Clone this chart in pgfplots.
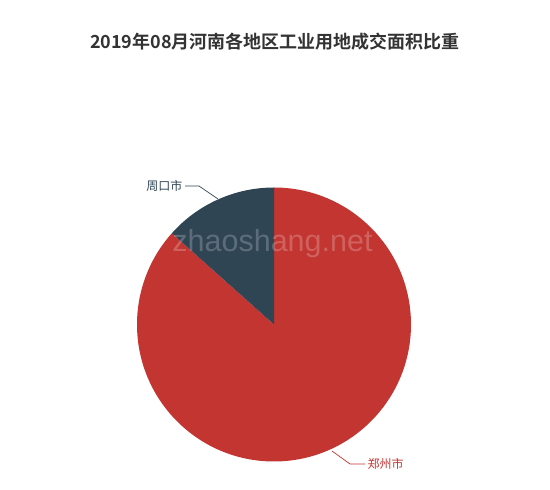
\documentclass[border=0pt]{standalone}
\usepackage{pgfplots}
\usepackage{pgfplotstable}
\pgfplotsset{compat=1.18}
\usepackage{fontspec}
\setmainfont{Liberation Sans}
\newfontfamily\cjk{Noto Sans CJK SC}
\newfontfamily\cjkbold{Noto Sans CJK SC Bold}
\definecolor{zzred}{HTML}{C23531}
\definecolor{zkdark}{HTML}{2F4554}
\definecolor{titlegray}{HTML}{333333}

% share of each city, in percent
\pgfplotstableread{
idx value
0 86.6
1 13.4
}\piedata

\begin{document}
\begin{tikzpicture}
\pgfplotstablegetelem{0}{value}\of\piedata
\pgfmathsetmacro\angA{90-3.6*\pgfplotsretval}
\pgfplotstablegetelem{1}{value}\of\piedata
\pgfmathsetmacro\angB{\angA-3.6*\pgfplotsretval}
\begin{axis}[
  scale only axis,
  width=550pt, height=490pt,
  xmin=0, xmax=550, ymin=0, ymax=490,
  axis lines=none,
  clip=false,
]
  % page frame
  \path (rel axis cs:0,0) rectangle (rel axis cs:1,1);

  % slices, clockwise from twelve o'clock
  \fill[zzred] (axis cs:274,165.5) -- ++(90:137pt)
    arc[start angle=90, end angle=\angA, radius=137pt] -- cycle;
  \fill[zkdark] (axis cs:274,165.5) -- ++(\angA:137pt)
    arc[start angle=\angA, end angle=\angB, radius=137pt] -- cycle;

  % watermark
  \node[anchor=base, text=white, opacity=0.22, font=\fontsize{30.5}{31}\selectfont, inner sep=0pt]
    at (axis cs:272.5,238) {zhaoshang.net};

  % label lines
  \draw[zkdark, line width=0.7pt] (axis cs:218,291) -- (axis cs:199,304) -- (axis cs:185,304);
  \node[anchor=east, text=zkdark, font=\cjk\fontsize{12}{12}\selectfont, inner sep=1.5pt]
    at (axis cs:184,304) {周口市};
  \draw[zzred, line width=0.7pt] (axis cs:332,39) -- (axis cs:350,26) -- (axis cs:365,26);
  \node[anchor=west, text=zzred, font=\cjk\fontsize{12}{12}\selectfont, inner sep=1.5pt]
    at (axis cs:366,26) {郑州市};

  % title
  \node[text=titlegray, font=\cjkbold\fontsize{18}{18}\selectfont]
    at (axis cs:275,448) {2019年08月河南各地区工业用地成交面积比重};
\end{axis}
\end{tikzpicture}
\end{document}
